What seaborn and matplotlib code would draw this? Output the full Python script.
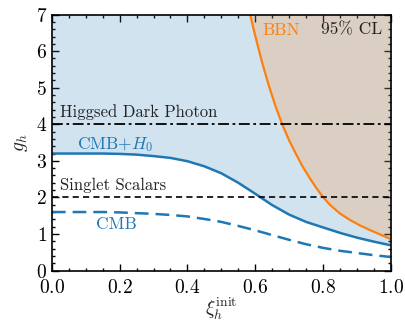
import numpy as np
import pandas as pd
import seaborn as sns
import matplotlib
matplotlib.use("Agg")
import matplotlib.pyplot as plt
from matplotlib.ticker import MultipleLocator

# values
xi_cmb = [0.0, 0.05, 0.10, 0.15, 0.20, 0.25, 0.30, 0.35, 0.40, 0.45, 0.50,
          0.55, 0.60, 0.65, 0.70, 0.75, 0.80, 0.85, 0.90, 0.95, 1.00]
g_cmb_h0 = [3.20, 3.20, 3.20, 3.20, 3.19, 3.17, 3.13, 3.08, 2.99, 2.85, 2.66,
            2.40, 2.10, 1.79, 1.53, 1.33, 1.18, 1.03, 0.90, 0.79, 0.69]
g_cmb = [1.60, 1.60, 1.60, 1.60, 1.59, 1.57, 1.55, 1.52, 1.48, 1.41, 1.33,
         1.22, 1.10, 0.97, 0.84, 0.72, 0.62, 0.54, 0.48, 0.42, 0.37]

xi_bbn = [0.585, 0.60, 0.62, 0.64, 0.66, 0.68, 0.70, 0.72, 0.74, 0.76,
          0.78, 0.80, 0.82, 0.85, 0.88, 0.91, 0.94, 0.97, 1.00]
g_bbn = [7.00, 6.42, 5.70, 5.06, 4.49, 3.99, 3.56, 3.19, 2.84, 2.54,
         2.26, 2.01, 1.80, 1.56, 1.38, 1.23, 1.10, 0.98, 0.86]

g_dark_photon = 4.0
g_singlet = 2.0

sns.set_theme(style="ticks")
plt.rcParams['font.family'] = 'serif'
plt.rcParams['font.serif'] = ['cmr10', 'DejaVu Serif']
plt.rcParams['mathtext.fontset'] = 'cm'
plt.rcParams['axes.formatter.use_mathtext'] = True

blue = '#1f77b4'
orange = '#ff7f0e'

fig = plt.figure(figsize=(4.05, 3.24), dpi=100)
ax = fig.add_axes([0.128, 0.165, 0.837, 0.79])

# excluded regions
ax.fill_between(xi_cmb, g_cmb_h0, 7, color=blue, alpha=0.2, lw=0)
ax.fill_between(xi_bbn, g_bbn, 7, color=orange, alpha=0.2, lw=0)

cmb_df = pd.DataFrame({'xi': xi_cmb, 'cmb_h0': g_cmb_h0, 'cmb': g_cmb})
bbn_df = pd.DataFrame({'xi': xi_bbn, 'bbn': g_bbn})

sns.lineplot(data=cmb_df, x='xi', y='cmb_h0', ax=ax, color=blue, lw=1.8)
sns.lineplot(data=cmb_df, x='xi', y='cmb', ax=ax, color=blue, lw=1.8,
             linestyle=(0, (5.5, 2.8)))
sns.lineplot(data=bbn_df, x='xi', y='bbn', ax=ax, color=orange, lw=1.6)

ax.axhline(g_dark_photon, color='black', lw=1.3, linestyle=(0, (6, 2, 1.5, 2)))
ax.axhline(g_singlet, color='black', lw=1.2, linestyle=(0, (3.7, 2.5)))

ax.text(0.025, 4.12, 'Higgsed Dark Photon', fontsize=12, va='bottom', color='#222222')
ax.text(0.025, 2.12, 'Singlet Scalars', fontsize=12, va='bottom', color='#222222')
ax.text(0.075, 3.45, r'CMB$+H_0$', fontsize=12.5, va='center', color=blue)
ax.text(0.19, 1.27, 'CMB', fontsize=12.5, va='center', ha='center', color=blue)
ax.text(0.622, 6.58, 'BBN', fontsize=12.5, va='center', color=orange)
ax.text(0.975, 6.58, r'95% CL', fontsize=12.5, va='center', ha='right', color='#222222')

ax.set_xlim(0, 1)
ax.set_ylim(0, 7)
ax.xaxis.set_major_locator(MultipleLocator(0.2))
ax.xaxis.set_minor_locator(MultipleLocator(0.05))
ax.yaxis.set_major_locator(MultipleLocator(1))
ax.yaxis.set_minor_locator(MultipleLocator(0.2))
ax.tick_params(which='both', direction='in', top=True, right=True, width=1.0,
               colors='black', labelsize=14)
ax.tick_params(which='major', length=5)
ax.tick_params(which='minor', length=2.5)
ax.tick_params(axis='x', which='major', pad=6)
for s in ax.spines.values():
    s.set_linewidth(1.2)
    s.set_color('black')

ax.set_xlabel(r'$\xi_h^{\rm init}$', fontsize=14, labelpad=-1)
ax.set_ylabel(r'$g_h$', fontsize=14, labelpad=4)

fig.savefig('out.png', dpi=100)
